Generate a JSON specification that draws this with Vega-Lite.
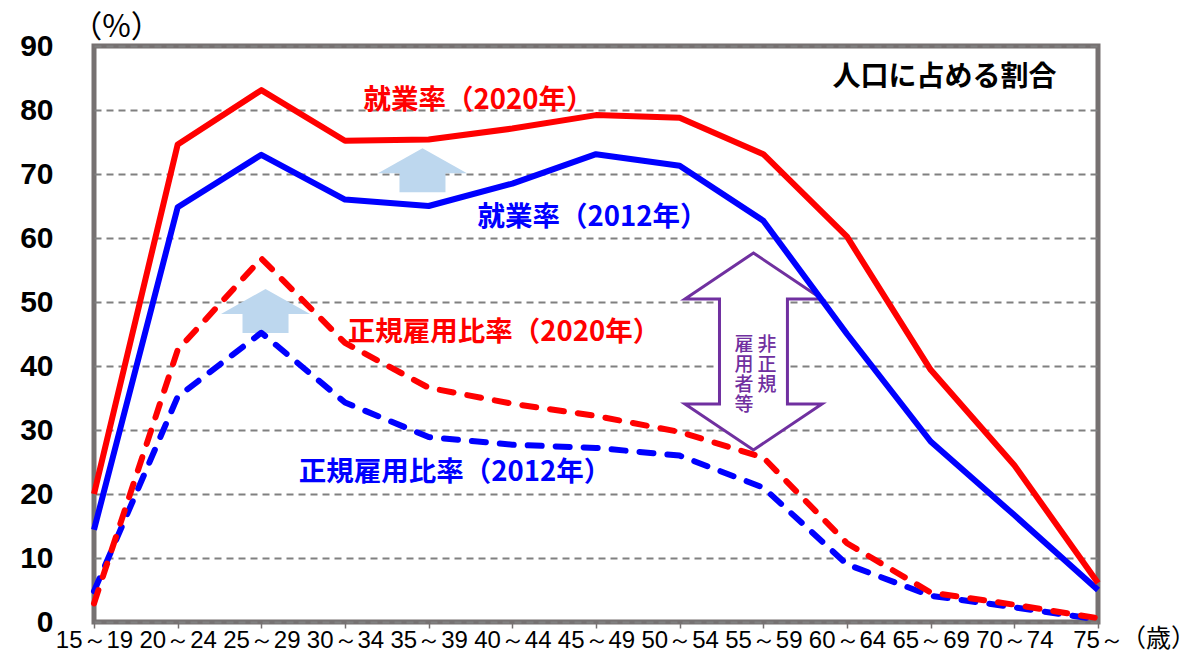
{
  "$schema": "https://vega.github.io/schema/vega-lite/v6.json",
  "width": 1004,
  "height": 576,
  "autosize": {"type": "none"},
  "padding": {"left": 94, "top": 46, "right": 90, "bottom": 30},
  "background": "white",
  "config": {
    "view": {"stroke": "#767171", "strokeWidth": 5}
  },
  "datasets": {
    "lines": [
      {"series": "就業率（2020年）", "age": "15～19", "i": 0, "v": 20.0},
      {"series": "就業率（2020年）", "age": "20～24", "i": 1, "v": 74.6},
      {"series": "就業率（2020年）", "age": "25～29", "i": 2, "v": 83.1},
      {"series": "就業率（2020年）", "age": "30～34", "i": 3, "v": 75.2},
      {"series": "就業率（2020年）", "age": "35～39", "i": 4, "v": 75.4},
      {"series": "就業率（2020年）", "age": "40～44", "i": 5, "v": 77.1},
      {"series": "就業率（2020年）", "age": "45～49", "i": 6, "v": 79.2},
      {"series": "就業率（2020年）", "age": "50～54", "i": 7, "v": 78.8},
      {"series": "就業率（2020年）", "age": "55～59", "i": 8, "v": 73.1},
      {"series": "就業率（2020年）", "age": "60～64", "i": 9, "v": 60.2},
      {"series": "就業率（2020年）", "age": "65～69", "i": 10, "v": 39.4},
      {"series": "就業率（2020年）", "age": "70～74", "i": 11, "v": 24.5},
      {"series": "就業率（2020年）", "age": "75～", "i": 12, "v": 6.1},
      {"series": "就業率（2012年）", "age": "15～19", "i": 0, "v": 14.4},
      {"series": "就業率（2012年）", "age": "20～24", "i": 1, "v": 64.8},
      {"series": "就業率（2012年）", "age": "25～29", "i": 2, "v": 73.0},
      {"series": "就業率（2012年）", "age": "30～34", "i": 3, "v": 66.0},
      {"series": "就業率（2012年）", "age": "35～39", "i": 4, "v": 65.0},
      {"series": "就業率（2012年）", "age": "40～44", "i": 5, "v": 68.5},
      {"series": "就業率（2012年）", "age": "45～49", "i": 6, "v": 73.1},
      {"series": "就業率（2012年）", "age": "50～54", "i": 7, "v": 71.3},
      {"series": "就業率（2012年）", "age": "55～59", "i": 8, "v": 62.7},
      {"series": "就業率（2012年）", "age": "60～64", "i": 9, "v": 45.0},
      {"series": "就業率（2012年）", "age": "65～69", "i": 10, "v": 28.2},
      {"series": "就業率（2012年）", "age": "70～74", "i": 11, "v": 16.7},
      {"series": "就業率（2012年）", "age": "75～", "i": 12, "v": 5.0},
      {"series": "正規雇用比率（2020年）", "age": "15～19", "i": 0, "v": 2.9},
      {"series": "正規雇用比率（2020年）", "age": "20～24", "i": 1, "v": 42.5},
      {"series": "正規雇用比率（2020年）", "age": "25～29", "i": 2, "v": 56.8},
      {"series": "正規雇用比率（2020年）", "age": "30～34", "i": 3, "v": 43.6},
      {"series": "正規雇用比率（2020年）", "age": "35～39", "i": 4, "v": 36.6},
      {"series": "正規雇用比率（2020年）", "age": "40～44", "i": 5, "v": 34.1},
      {"series": "正規雇用比率（2020年）", "age": "45～49", "i": 6, "v": 32.2},
      {"series": "正規雇用比率（2020年）", "age": "50～54", "i": 7, "v": 29.7},
      {"series": "正規雇用比率（2020年）", "age": "55～59", "i": 8, "v": 25.7},
      {"series": "正規雇用比率（2020年）", "age": "60～64", "i": 9, "v": 12.3},
      {"series": "正規雇用比率（2020年）", "age": "65～69", "i": 10, "v": 4.6},
      {"series": "正規雇用比率（2020年）", "age": "70～74", "i": 11, "v": 2.7},
      {"series": "正規雇用比率（2020年）", "age": "75～", "i": 12, "v": 0.6},
      {"series": "正規雇用比率（2012年）", "age": "15～19", "i": 0, "v": 4.8},
      {"series": "正規雇用比率（2012年）", "age": "20～24", "i": 1, "v": 35.2},
      {"series": "正規雇用比率（2012年）", "age": "25～29", "i": 2, "v": 45.2},
      {"series": "正規雇用比率（2012年）", "age": "30～34", "i": 3, "v": 34.3},
      {"series": "正規雇用比率（2012年）", "age": "35～39", "i": 4, "v": 28.9},
      {"series": "正規雇用比率（2012年）", "age": "40～44", "i": 5, "v": 27.7},
      {"series": "正規雇用比率（2012年）", "age": "45～49", "i": 6, "v": 27.2},
      {"series": "正規雇用比率（2012年）", "age": "50～54", "i": 7, "v": 26.0},
      {"series": "正規雇用比率（2012年）", "age": "55～59", "i": 8, "v": 21.0},
      {"series": "正規雇用比率（2012年）", "age": "60～64", "i": 9, "v": 9.0},
      {"series": "正規雇用比率（2012年）", "age": "65～69", "i": 10, "v": 4.1},
      {"series": "正規雇用比率（2012年）", "age": "70～74", "i": 11, "v": 2.3},
      {"series": "正規雇用比率（2012年）", "age": "75～", "i": 12, "v": 0.4}
    ],
    "seriesLabels": [
      {"series": "就業率（2020年）", "i": 4.595, "v": 81.4},
      {"series": "就業率（2012年）", "i": 5.958, "v": 63.1},
      {"series": "正規雇用比率（2020年）", "i": 4.9, "v": 45.2},
      {"series": "正規雇用比率（2012年）", "i": 4.315, "v": 23.3}
    ],
    "heading": [
      {"txt": "人口に占める割合", "i": 10.165, "v": 85.0}
    ],
    "vertical": [
      {"txt": "非\n正\n規", "i": 8.044, "v": 43.3},
      {"txt": "雇\n用\n者\n等", "i": 7.769, "v": 43.3}
    ],
    "upArrows": [
      {"what": "就業率の上昇", "i": 3.926, "v": 70.6},
      {"what": "正規雇用比率の上昇", "i": 2.05, "v": 48.6}
    ],
    "gapArrow": [
      {"what": "非正規雇用者等", "i": 7.882, "v": 42.27}
    ]
  },
  "encoding": {
    "x": {
      "field": "i",
      "type": "quantitative",
      "scale": {"domain": [0, 12], "nice": false, "zero": false},
      "axis": {
        "values": [0, 1, 2, 3, 4, 5, 6, 7, 8, 9, 10, 11, 12],
        "labelExpr": "['15～19','20～24','25～29','30～34','35～39','40～44','45～49','50～54','55～59','60～64','65～69','70～74','75～'][datum.value]",
        "labelFont": "Liberation Sans Narrow, Liberation Sans",
        "labelFontSize": 24,
        "labelColor": "#000000",
        "labelFlush": false,
        "labelOverlap": false,
        "labelPadding": 0,
        "tickSize": 6,
        "tickColor": "#767171",
        "tickWidth": 1.5,
        "domain": false,
        "grid": false,
        "title": "（歳）",
        "titleFont": "Noto Sans CJK JP",
        "titleFontSize": 25,
        "titleFontWeight": "normal",
        "titleColor": "#000000",
        "titleX": 1064,
        "titleY": 16,
        "titleAlign": "center",
        "titleBaseline": "middle"
      }
    },
    "y": {
      "field": "v",
      "type": "quantitative",
      "scale": {"domain": [0, 90], "nice": false},
      "axis": {
        "values": [0, 10, 20, 30, 40, 50, 60, 70, 80, 90],
        "labelFont": "Liberation Sans",
        "labelFontSize": 30,
        "labelFontWeight": "bold",
        "labelColor": "#000000",
        "labelPadding": 41,
        "ticks": false,
        "domain": false,
        "grid": true,
        "gridColor": "#808080",
        "gridDash": [7, 5],
        "gridWidth": 2,
        "title": "（%）",
        "titleFont": "Noto Sans CJK JP",
        "titleFontSize": 31,
        "titleFontWeight": "normal",
        "titleColor": "#000000",
        "titleAngle": 0,
        "titleX": 22,
        "titleY": -19,
        "titleAlign": "center",
        "titleBaseline": "middle"
      }
    }
  },
  "layer": [
    {
      "data": {"name": "upArrows"},
      "mark": {
        "type": "point",
        "shape": "M0,-0.494L1,0.067L0.517,0.067L0.517,0.494L-0.517,0.494L-0.517,0.067L-1,0.067Z",
        "size": 7921,
        "filled": true,
        "color": "#BDD7EE",
        "opacity": 1,
        "strokeWidth": 0
      }
    },
    {
      "data": {"name": "gapArrow"},
      "mark": {
        "type": "point",
        "shape": "M0,-1.438L1,-0.766L0.496,-0.766L0.496,0.766L1,0.766L0,1.438L-1,0.766L-0.496,0.766L-0.496,-0.766L-1,-0.766Z",
        "size": 18769,
        "filled": true,
        "fill": "#FFFFFF",
        "stroke": "#7030A0",
        "strokeWidth": 3,
        "opacity": 1
      }
    },
    {
      "data": {"name": "vertical"},
      "mark": {
        "type": "text",
        "font": "Noto Sans CJK JP",
        "fontSize": 19,
        "fontWeight": 500,
        "color": "#7030A0",
        "lineBreak": "\n",
        "lineHeight": 20,
        "align": "center",
        "baseline": "middle"
      },
      "encoding": {"text": {"field": "txt"}}
    },
    {
      "data": {"name": "lines"},
      "transform": [{"filter": "datum.series === '正規雇用比率（2012年）'"}],
      "mark": {"type": "line", "strokeWidth": 6, "strokeDash": [14, 14], "strokeCap": "round", "strokeJoin": "round"},
      "encoding": {
        "color": {"field": "series", "type": "nominal", "scale": {"domain": ["就業率（2020年）", "就業率（2012年）", "正規雇用比率（2020年）", "正規雇用比率（2012年）"], "range": ["#FF0000", "#0000FF", "#FF0000", "#0000FF"]}, "legend": null}
      }
    },
    {
      "data": {"name": "lines"},
      "transform": [{"filter": "datum.series === '正規雇用比率（2020年）'"}],
      "mark": {"type": "line", "strokeWidth": 6, "strokeDash": [14, 14], "strokeCap": "round", "strokeJoin": "round"},
      "encoding": {
        "color": {"field": "series", "type": "nominal", "legend": null}
      }
    },
    {
      "data": {"name": "lines"},
      "transform": [{"filter": "datum.series === '就業率（2012年）'"}],
      "mark": {"type": "line", "strokeWidth": 6, "strokeJoin": "round"},
      "encoding": {
        "color": {"field": "series", "type": "nominal", "legend": null}
      }
    },
    {
      "data": {"name": "lines"},
      "transform": [{"filter": "datum.series === '就業率（2020年）'"}],
      "mark": {"type": "line", "strokeWidth": 6, "strokeJoin": "round"},
      "encoding": {
        "color": {"field": "series", "type": "nominal", "legend": null}
      }
    },
    {
      "data": {"name": "seriesLabels"},
      "mark": {
        "type": "text",
        "font": "Noto Sans CJK JP",
        "fontSize": 27.5,
        "fontWeight": "bold",
        "align": "center",
        "baseline": "middle"
      },
      "encoding": {
        "text": {"field": "series"},
        "color": {"field": "series", "type": "nominal", "legend": null}
      }
    },
    {
      "data": {"name": "heading"},
      "mark": {
        "type": "text",
        "font": "Noto Sans CJK JP",
        "fontSize": 28,
        "fontWeight": "bold",
        "color": "#000000",
        "align": "center",
        "baseline": "middle"
      },
      "encoding": {"text": {"field": "txt"}}
    }
  ]
}
